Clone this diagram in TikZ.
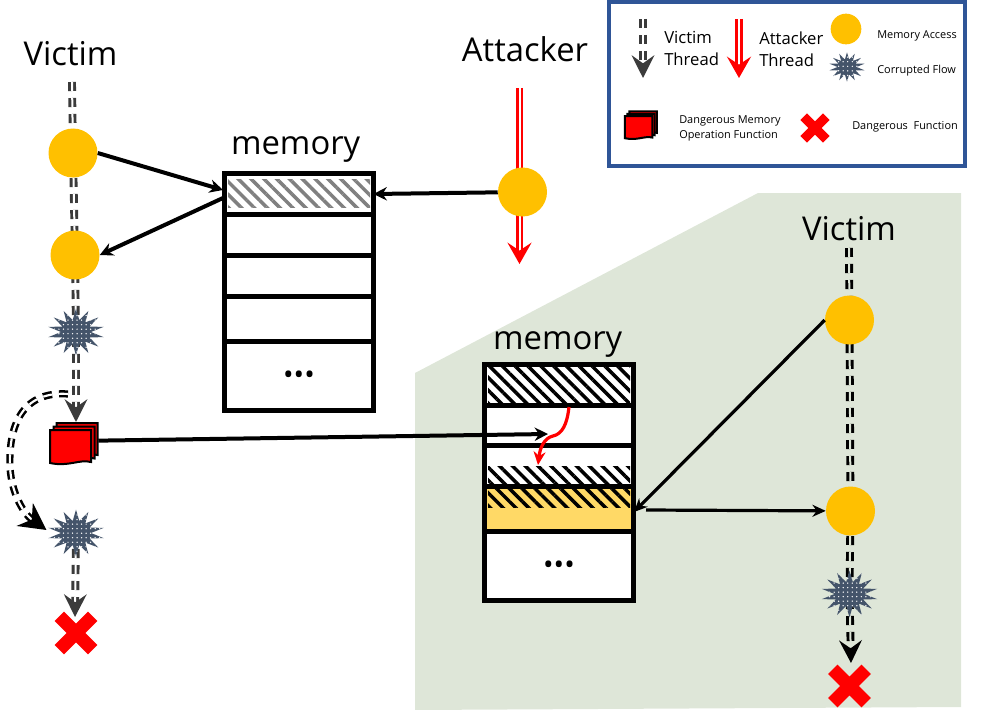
\documentclass[tikz,border=0pt]{standalone}
\usepackage{fontspec}
\setsansfont{Open Sans}
\usepackage{xcolor}
\usetikzlibrary{positioning}
\usetikzlibrary{arrows.meta}
\usetikzlibrary{backgrounds}
\usetikzlibrary{patterns.meta}
\usetikzlibrary{shapes.geometric}
\usetikzlibrary{shapes.misc}

\definecolor{accessc}{HTML}{FFC000}
\definecolor{starc}{HTML}{44546A}
\definecolor{legendc}{HTML}{2F5597}
\definecolor{greenc}{HTML}{DEE6D8}
\definecolor{threadc}{HTML}{3B3B3B}
\definecolor{yellowc}{HTML}{FFD966}

\begin{document}
\begin{tikzpicture}[
    y = -.75pt,
    x = .75pt,
    font = \sffamily,
    access/.style = {
      circle,
      fill=accessc,
      inner sep=0pt,
      minimum size=36.75pt
    },
    corrupt/.style = {
      star,
      star points=14,
      star point ratio=1.9,
      inner sep=0pt,
      minimum size=35pt,
      xscale=1.22,
      transform shape,
      preaction={fill=starc},
      pattern={Dots[radius=.55pt,distance=3.4pt]},
      pattern color=white
    },
    dangerf/.style = {
      shape=cross out,
      draw=red,
      line width=10pt,
      minimum size=25pt,
      inner sep=0pt,
      outer sep=0pt
    },
    memcell/.style = {
      rectangle,
      draw=black,
      fill=white,
      line width=3.75pt,
      minimum width=111.75pt,
      inner sep=0pt,
      outer sep=0pt
    },
    hatch/.style = {
      rectangle,
      inner sep=0pt,
      minimum width=106.5pt,
      pattern={Lines[angle=-45,distance=6.8pt,line width=2.6pt]},
      pattern color=#1
    },
    vthread/.style = {
      draw=threadc,
      line width=2.2pt,
      double=white,
      double distance=1.5pt,
      dash pattern=on 6.75pt off 5.25pt,
      -{Stealth[length=17pt,width=17pt,inset=6pt]}
    },
    rthread/.style = {
      vthread,
      draw=black,
      double=greenc
    },
    athread/.style = {
      draw=red,
      line width=2.2pt,
      double=white,
      double distance=1.5pt,
      -{Stealth[length=16pt,width=18pt,inset=6pt]}
    },
    memarrow/.style = {
      draw=black,
      line width=3pt,
      -{Stealth[length=10pt,width=10pt]}
    },
    thinarrow/.style = {
      draw=black,
      line width=2.4pt,
      -{Stealth[length=10pt,width=9pt]}
    },
    titlef/.style = {font=\fontsize{24.6}{28}\sffamily},
    legendf/.style = {font=\fontsize{12.5}{16.5}\sffamily, align=left, anchor=west, inner sep=0pt},
    smallf/.style = {font=\fontsize{8.2}{11.5}\sffamily, align=left, anchor=west, inner sep=0pt},
    moredots/.style = {font=\fontsize{21}{21}\sffamily, yshift=-1.5pt},
    docstack/.pic = {
      \foreach \dx/\dy in {6.5/-7, 3.5/-3.5, 0/0} {
        \draw[black, fill=red, line width=1.5pt, shift={(\dx,\dy)}]
          (-24,-14) -- (17,-14) -- (17,18) .. controls (5,15) and (-5,23) .. (-24,19) -- cycle;
      }
    }
  ]
    \useasboundingbox (0,0) rectangle (1000,710);

    % green region
    \begin{scope}[on background layer]
      \fill[greenc] (415,373) -- (758,193) -- (961,193) -- (961,707) -- (415,710) -- cycle;
    \end{scope}

    % legend
    \node[rectangle, draw=legendc, fill=white, line width=3pt, minimum width=267pt, minimum height=123pt, inner sep=0pt] (legend) at (786.5,84) {};
    \coordinate (lvtop) at (643,19);
    \coordinate (lvend) at (643,78);
    \coordinate (latop) at (739,19);
    \coordinate (laend) at (739,78);
    \draw[vthread] (lvtop) -- (lvend);
    \draw[athread] (latop) -- (laend);
    \node[legendf] (lvictim) at (664,48) {Victim\\Thread};
    \node[legendf] (lattack) at (759,49) {Attacker\\Thread};
    \node[access, minimum size=23pt] (laccess) at (846,29) {};
    \node[corrupt, minimum size=22pt] (lcorrupt) at (847,67) {};
    \node[smallf] (laccesst) at (877,36) {Memory Access};
    \node[smallf] (lcorruptt) at (877,71) {Corrupted Flow};
    \pic[scale=.67] at (641,125.5) {docstack};
    \node[smallf] (lmemfn) at (679,128.5) {Dangerous Memory\\Operation Function};
    \node[dangerf, line width=7pt, minimum size=17pt] (ldanger) at (815,128) {};
    \node[smallf] (ldangert) at (852,127) {Dangerous\ \ Function};

    % left memory
    \node[memcell, minimum height=30.75pt] (ma) at (299,194) {};
    \node[memcell, minimum height=30.75pt, below=0pt of ma] (mb) {};
    \node[memcell, minimum height=30.4pt, below=0pt of mb] (mc) {};
    \node[memcell, minimum height=33.75pt, below=0pt of mc] (md) {};
    \node[memcell, minimum height=51.75pt, below=0pt of md] (me) {};
    \node[moredots] (medots) at (me) {\textbullet\textbullet\textbullet};
    \node[titlef, above=5pt of ma, xshift=-2.5pt] (mlabel) {memory};
    \node[hatch=black!50, minimum height=21pt] (mahatch) at (299,193) {};

    % right memory
    \node[memcell, minimum height=31.1pt] (ra) at (559,384.75) {};
    \node[memcell, minimum height=30pt, below=0pt of ra] (rb) {};
    \node[memcell, minimum height=30.75pt, below=0pt of rb] (rc) {};
    \node[memcell, minimum height=33.75pt, below=0pt of rc] (rd) {};
    \node[memcell, minimum height=51.75pt, below=0pt of rd] (re) {};
    \node[moredots] (redots) at (re) {\textbullet\textbullet\textbullet};
    \node[titlef, above=1.5pt of ra, xshift=-1pt] (rlabel) {memory};
    \node[hatch=black, minimum height=26.25pt] (rahatch) at (559,384.5) {};
    \node[hatch=black, minimum height=13.5pt] (rchatch) at (559,475) {};
    \node[rectangle, fill=yellowc, inner sep=0pt, minimum width=108pt, minimum height=29.5pt] (rdfill) at (558.5,509) {};
    \node[hatch=black, minimum height=13.5pt] (rdhatch) at (559,498) {};

    % left thread
    \node[titlef] (victim) at (70.5,54) {Victim};
    \coordinate (vtop) at (72,82);
    \node[access] (va) at (73,153) {};
    \node[access] (vb) at (75,255) {};
    \node[corrupt] (vc) at (76,332) {};
    \coordinate (vfnin) at (76,422);
    \node[rectangle, minimum width=36pt, minimum height=31pt, inner sep=0pt] (memfn) at (74,441) {};
    \pic at (74,444) {docstack};
    \node[corrupt] (vd) at (76,533) {};
    \coordinate (vout) at (75,617);
    \node[dangerf] (vx) at (76,633) {};
    \coordinate (vbend) at (68,394);
    \coordinate (vbendend) at (46.5,530);

    % attacker
    \node[titlef] (attacker) at (525,49) {Attacker};
    \coordinate (atop) at (519.5,88);
    \coordinate (aend) at (519.5,264);
    \node[access] (aa) at (522.5,192) {};

    % right thread
    \node[titlef] (rvictim) at (849,229) {Victim};
    \coordinate (rtop) at (849,248);
    \node[access] (rva) at (849.5,320) {};
    \node[access] (rvb) at (850.5,511) {};
    \node[corrupt] (rvc) at (849.5,594) {};
    \coordinate (rvout) at (851,663);
    \node[dangerf] (rvx) at (849.5,686) {};

    % threads go below the nodes
    \begin{scope}[on background layer]
      \draw[vthread] (vtop) -- (va.center) -- (vb.center) -- (vc.center) -- (vfnin);
      \draw[vthread] (vd.center) -- (vout);
      \draw[vthread, draw=black, line width=1.9pt, double distance=1.6pt, -{Stealth[length=20pt,width=21pt]}]
        (vbend) .. controls (26,391) and (8,420) .. (10,468) .. controls (12,495) and (24,514) .. (vbendend);
      \draw[athread] (atop) -- (aend);
      \draw[rthread] (rtop) -- (rva.center) -- (rvb.center) -- (rvc.center) -- (rvout);
    \end{scope}

    % accesses
    \coordinate (mwa) at (223,190);
    \coordinate (mwb) at (223,198);
    \coordinate (rdeast) at (634,512);
    \coordinate (rdstart) at (646,510);
    \coordinate (rbin) at (548,434);
    \coordinate (rflowa) at (569,407);
    \coordinate (rflowb) at (538,465);
    \draw[memarrow] (va.east) -- (mwa);
    \draw[memarrow] (mwb) -- (vb.east);
    \draw[memarrow] (aa) -- (ma.east);
    \draw[memarrow] (memfn) -- (rbin);
    \draw[thinarrow] (rva.west) -- (rdeast);
    \draw[thinarrow] (rdstart) -- (rvb);
    \draw[draw=red, line width=2.4pt, -{Stealth[length=10pt,width=9pt]}]
      (rflowa) .. controls (567,425) and (562,434) .. (553,436) .. controls (544,438) and (540,448) .. (rflowb);

  \end{tikzpicture}
\end{document}
